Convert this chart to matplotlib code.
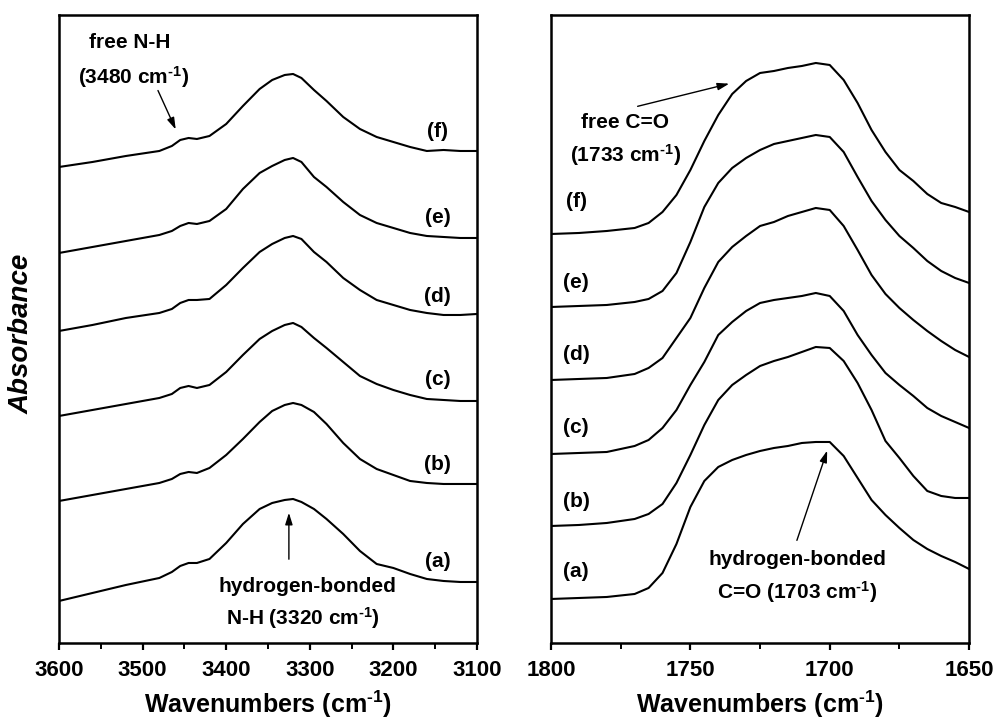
import numpy as np
import matplotlib
matplotlib.use('Agg')
import matplotlib.pyplot as plt
from matplotlib.ticker import MultipleLocator

plt.rcParams['font.family'] = ['Liberation Sans', 'DejaVu Sans']
plt.rcParams['font.weight'] = 'bold'
plt.rcParams['axes.labelweight'] = 'bold'
plt.rcParams['mathtext.fontset'] = 'custom'
plt.rcParams['mathtext.rm'] = 'Liberation Sans:bold'
plt.rcParams['mathtext.default'] = 'rm'

samples = ['(a)', '(b)', '(c)', '(d)', '(e)', '(f)']

# N-H stretching region (stacked, arbitrary absorbance units)
nh_wn = [3600, 3560, 3520, 3480, 3465, 3455, 3445, 3435, 3420, 3400, 3380, 3360, 3345, 3330,
         3320, 3310, 3295, 3280, 3260, 3240, 3220, 3200, 3180, 3160, 3140, 3120, 3100]
nh_a = [0.42, 0.50, 0.58, 0.65, 0.71, 0.77, 0.80, 0.80, 0.84, 1.00, 1.19, 1.34, 1.40, 1.43,
        1.44, 1.41, 1.34, 1.24, 1.09, 0.92, 0.79, 0.75, 0.69, 0.64, 0.62, 0.61, 0.61]
nh_b = [1.42, 1.48, 1.54, 1.60, 1.64, 1.69, 1.71, 1.70, 1.75, 1.88, 2.04, 2.21, 2.32, 2.38,
        2.40, 2.38, 2.31, 2.19, 2.00, 1.84, 1.74, 1.68, 1.62, 1.60, 1.59, 1.59, 1.59]
nh_c = [2.27, 2.33, 2.39, 2.45, 2.49, 2.55, 2.57, 2.55, 2.58, 2.71, 2.88, 3.04, 3.12, 3.18,
        3.20, 3.16, 3.05, 2.95, 2.81, 2.67, 2.59, 2.53, 2.48, 2.44, 2.43, 2.42, 2.42]
nh_d = [3.12, 3.18, 3.25, 3.30, 3.34, 3.40, 3.43, 3.43, 3.44, 3.58, 3.75, 3.91, 3.99, 4.05,
        4.07, 4.04, 3.91, 3.81, 3.65, 3.53, 3.43, 3.38, 3.33, 3.30, 3.28, 3.28, 3.29]
nh_e = [3.90, 3.96, 4.02, 4.08, 4.12, 4.17, 4.20, 4.19, 4.22, 4.34, 4.54, 4.70, 4.77, 4.83,
        4.85, 4.81, 4.66, 4.56, 4.41, 4.28, 4.20, 4.15, 4.10, 4.07, 4.06, 4.05, 4.05]
nh_f = [4.76, 4.81, 4.87, 4.92, 4.97, 5.03, 5.05, 5.04, 5.07, 5.19, 5.37, 5.54, 5.63, 5.68,
        5.69, 5.65, 5.53, 5.42, 5.26, 5.14, 5.06, 5.01, 4.96, 4.92, 4.93, 4.92, 4.92]

# C=O stretching region
co_wn = [1800, 1790, 1780, 1770, 1765, 1760, 1755, 1750, 1745, 1740, 1735, 1730, 1725, 1720,
         1715, 1710, 1705, 1700, 1695, 1690, 1685, 1680, 1675, 1670, 1665, 1660, 1655, 1650]
co_a = [0.44, 0.45, 0.46, 0.49, 0.55, 0.70, 0.99, 1.36, 1.62, 1.76, 1.83, 1.88, 1.92, 1.95,
        1.97, 2.00, 2.01, 2.01, 1.87, 1.65, 1.43, 1.28, 1.15, 1.03, 0.94, 0.87, 0.81, 0.74]
co_b = [1.17, 1.18, 1.20, 1.24, 1.29, 1.39, 1.60, 1.88, 2.18, 2.43, 2.58, 2.68, 2.77, 2.82,
        2.86, 2.91, 2.96, 2.95, 2.82, 2.60, 2.33, 2.02, 1.85, 1.67, 1.52, 1.47, 1.45, 1.45]
co_c = [1.89, 1.90, 1.91, 1.97, 2.03, 2.15, 2.33, 2.58, 2.81, 3.08, 3.21, 3.32, 3.40, 3.43,
        3.45, 3.47, 3.50, 3.47, 3.32, 3.08, 2.88, 2.70, 2.58, 2.47, 2.35, 2.27, 2.21, 2.15]
co_d = [2.63, 2.64, 2.65, 2.69, 2.75, 2.85, 3.05, 3.25, 3.55, 3.81, 3.96, 4.07, 4.17, 4.21,
        4.27, 4.31, 4.35, 4.33, 4.17, 3.93, 3.68, 3.49, 3.35, 3.23, 3.12, 3.02, 2.93, 2.86]
co_e = [3.36, 3.37, 3.38, 3.41, 3.44, 3.52, 3.70, 4.01, 4.36, 4.60, 4.75, 4.85, 4.93, 4.99,
        5.02, 5.05, 5.08, 5.06, 4.91, 4.66, 4.42, 4.23, 4.07, 3.95, 3.82, 3.72, 3.65, 3.60]
co_f = [4.09, 4.10, 4.12, 4.15, 4.20, 4.31, 4.48, 4.73, 5.02, 5.28, 5.49, 5.62, 5.70, 5.72,
        5.75, 5.77, 5.80, 5.78, 5.63, 5.40, 5.13, 4.91, 4.73, 4.62, 4.49, 4.40, 4.36, 4.31]

# where the (a)-(f) tags sit on each panel
nh_tag_y = [0.81, 1.78, 2.63, 3.46, 4.25, 5.11]
co_tag_y = [0.71, 1.41, 2.15, 2.88, 3.60, 4.41]

nh_curves = [nh_a, nh_b, nh_c, nh_d, nh_e, nh_f]
co_curves = [co_a, co_b, co_c, co_d, co_e, co_f]

cm = r'cm$^{\text{-1}}$'

fig = plt.figure(figsize=(9.97, 7.24), dpi=100)
ax1 = fig.add_axes([0.0592, 0.1119, 0.4192, 0.8674])
ax2 = fig.add_axes([0.5527, 0.1119, 0.4193, 0.8674])

for curve in nh_curves:
    ax1.plot(nh_wn, curve, color='black', lw=1.5)
for curve in co_curves:
    ax2.plot(co_wn, curve, color='black', lw=1.5)

fs = 15
for lab, y in zip(samples, nh_tag_y):
    ax1.text(3147, y, lab, ha='center', va='center', fontsize=fs)
for lab, y in zip(samples, co_tag_y):
    ax2.text(1791, y, lab, ha='center', va='center', fontsize=fs)

ax1.set_xlim(3600, 3100)
ax2.set_xlim(1800, 1650)
for ax, major, minor in [(ax1, 100, 50), (ax2, 50, 25)]:
    ax.set_ylim(0, 6.28)
    ax.set_yticks([])
    ax.xaxis.set_major_locator(MultipleLocator(major))
    ax.xaxis.set_minor_locator(MultipleLocator(minor))
    ax.tick_params(axis='x', which='major', direction='out', length=5, width=1.6,
                   labelsize=16, pad=7)
    ax.tick_params(axis='x', which='minor', direction='out', length=4, width=1.4)
    for sp in ax.spines.values():
        sp.set_linewidth(1.8)
    ax.set_xlabel('Wavenumbers (' + cm + ')', fontsize=18, fontweight='bold', labelpad=6)

arrow = dict(arrowstyle='-|>,head_width=0.22,head_length=0.7', color='black', lw=1.0)

ax1.text(3515, 6.00, 'free N-H', ha='center', va='center', fontsize=fs)
ax1.text(3511, 5.66, '(3480 ' + cm + ')', ha='center', va='center', fontsize=fs)
ax1.annotate('', xy=(3459, 5.11), xytext=(3483, 5.55), arrowprops=arrow)
ax1.text(3303, 0.56, 'hydrogen-bonded', ha='center', va='center', fontsize=fs)
ax1.text(3308, 0.25, 'N-H (3320 ' + cm + ')', ha='center', va='center', fontsize=fs)
ax1.annotate('', xy=(3325, 1.33), xytext=(3325, 0.81), arrowprops=arrow)

ax2.text(1773.4, 5.20, 'free C=O', ha='center', va='center', fontsize=fs)
ax2.text(1773.4, 4.88, '(1733 ' + cm + ')', ha='center', va='center', fontsize=fs)
ax2.annotate('', xy=(1735.1, 5.60), xytext=(1769.9, 5.36), arrowprops=arrow)
ax2.text(1711.7, 0.83, 'hydrogen-bonded', ha='center', va='center', fontsize=fs)
ax2.text(1711.7, 0.51, 'C=O (1703 ' + cm + ')', ha='center', va='center', fontsize=fs)
ax2.annotate('', xy=(1700.6, 1.95), xytext=(1712.1, 1.00), arrowprops=arrow)

fig.text(0.022, 0.539, 'Absorbance', rotation=90, ha='center', va='center',
         fontsize=20, fontstyle='italic', fontweight='bold')

fig.savefig('out.png', dpi=100)
